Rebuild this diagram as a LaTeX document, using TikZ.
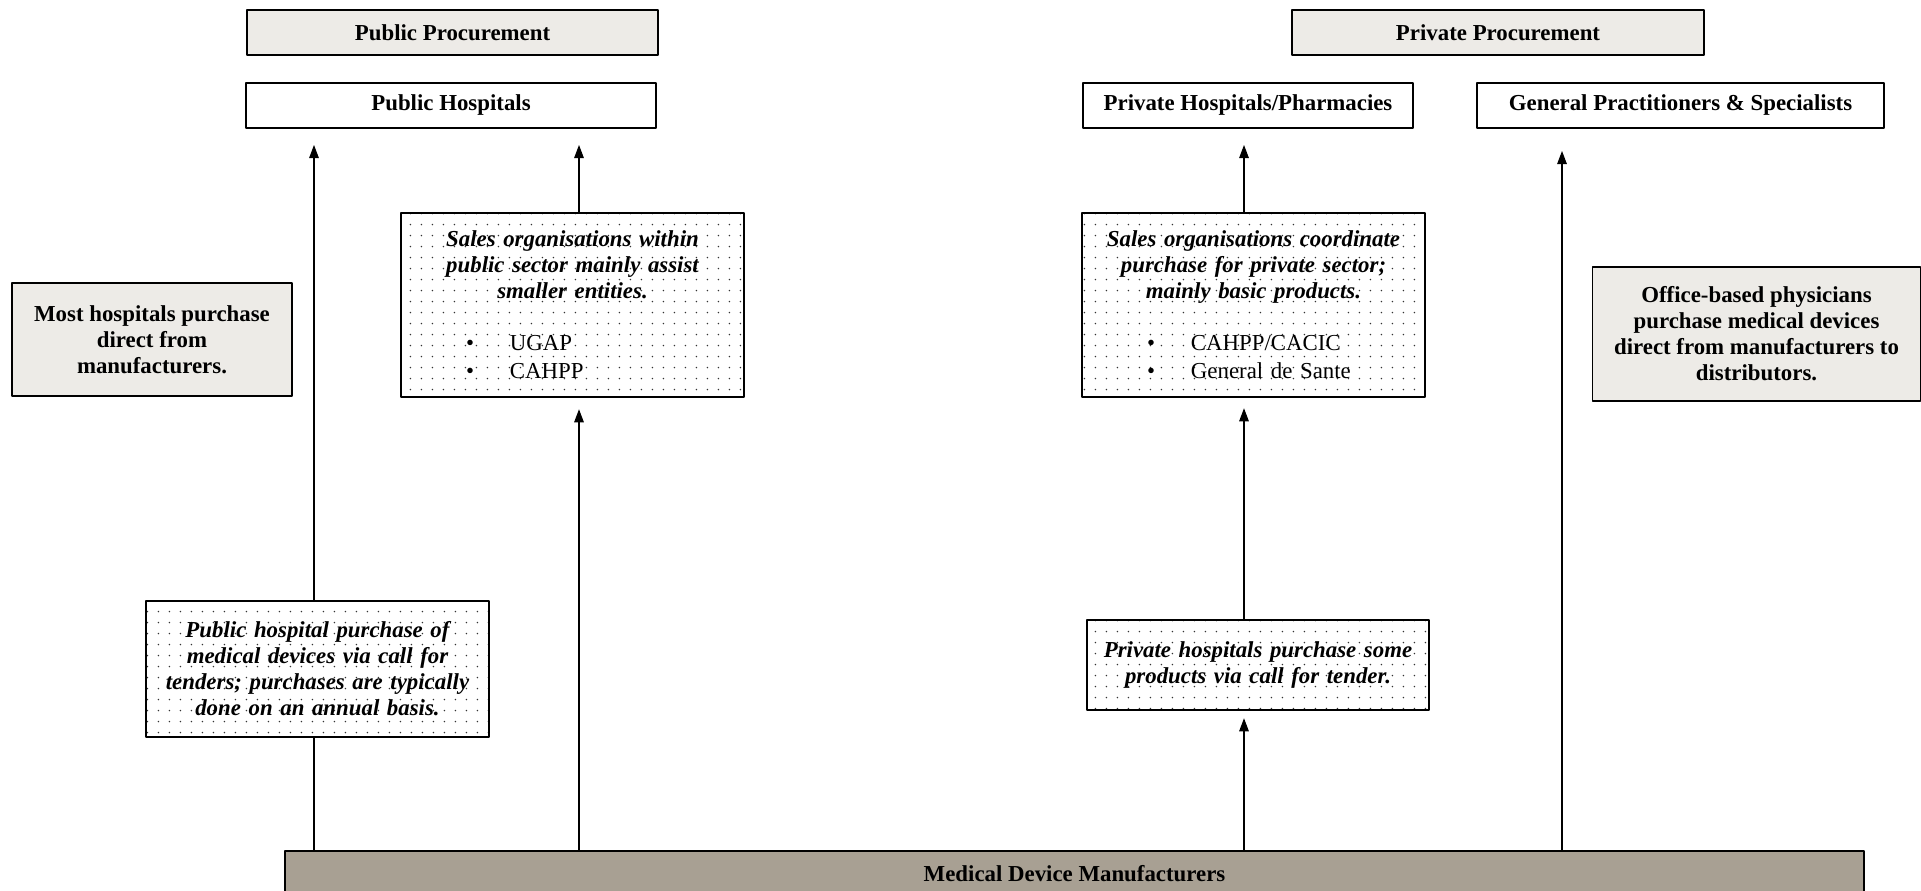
\documentclass[tikz,border=0pt]{standalone}
\usepackage{fontspec}
\setmainfont{Liberation Serif}
\usetikzlibrary{arrows.meta,patterns.meta}
\definecolor{notegrey}{RGB}{237,235,231}
\definecolor{basetaupe}{RGB}{168,160,147}
\newcommand{\orgitem}[1]{\noindent\hspace*{1.3cm}\textbullet\hspace*{0.72cm}#1}
\begin{document}
\begin{tikzpicture}[>={Triangle[length=7.5pt,width=5.5pt]}, line join=round,
	plainbox/.style={draw, line width=1.1pt, inner sep=0pt, minimum height=0.9cm, align=center, font=\fontsize{13}{14.8}\selectfont\bfseries},
	notebox/.style={plainbox, fill=notegrey},
	dotbox/.style={draw, line width=1.4pt, inner sep=0pt, text width=6.86cm, pattern={Dots[distance=6.5pt,radius=0.5pt]}, pattern color=black!80, font=\fontsize{13}{14.8}\selectfont},
	basebox/.style={plainbox, fill=basetaupe, line width=1.4pt},
	flow/.style={line width=0.6pt}]
	\useasboundingbox (0,0) rectangle (38.42,-17.82);
	\path
	(6.28,0) coordinate (xa)
	(11.58,0) coordinate (xb)
	(24.88,0) coordinate (xc)
	(31.24,0) coordinate (xd)
	;
	% top row
	\node[notebox, minimum width=8.22cm] (pubproc) at (9.05,-0.65) {Public Procurement};
	\node[notebox, minimum width=8.24cm] (privproc) at (29.96,-0.65) {Private Procurement};
	\node[plainbox, minimum width=8.20cm] (pubhosp) at (9.02,-2.11) {Public Hospitals};
	\node[plainbox, minimum width=6.60cm] (privhosp) at (24.96,-2.11) {Private Hospitals/Pharmacies};
	\node[plainbox, minimum width=8.14cm] (gp) at (33.61,-2.11) {General Practitioners \& Specialists};
	% notes
	\node[notebox, minimum width=5.60cm, minimum height=2.26cm] (most) at (3.04,-6.79) {Most hospitals purchase\\direct from\\manufacturers.};
	\node[notebox, minimum width=6.56cm, minimum height=2.68cm] (office) at (35.13,-6.68) {Office-based physicians\\purchase medical devices\\direct from manufacturers to\\distributors.};
	% sales organisations
	\node[dotbox, minimum height=3.68cm] (salespub) at (11.45,-6.10) {{\centering\bfseries\itshape Sales organisations within\\public sector mainly assist\\smaller entities.\par}\vspace{14.8pt}\orgitem{UGAP}\\[1pt]\orgitem{CAHPP}};
	\node[dotbox, minimum height=3.68cm] (salespriv) at (25.07,-6.10) {{\centering\bfseries\itshape Sales organisations coordinate\\purchase for private sector;\\mainly basic products.\par}\vspace{14.8pt}\orgitem{CAHPP/CACIC}\\[1pt]\orgitem{General de Sante}};
	% tenders
	\node[dotbox, align=center, minimum height=2.72cm, font=\fontsize{13}{14.8}\selectfont\bfseries\itshape] (pubpurch) at (6.35,-13.38) {Public hospital purchase of\\medical devices via call for\\tenders; purchases are typically\\done on an annual basis.};
	\node[dotbox, align=center, text width=6.84cm, minimum height=1.80cm, font=\fontsize{13}{14.8}\selectfont\bfseries\itshape] (privpurch) at (25.16,-13.30) {Private hospitals purchase some\\products via call for tender.};
	\node[basebox, minimum width=31.58cm, minimum height=0.92cm] (manuf) at (21.49,-17.48) {Medical Device Manufacturers};
	% flows
	\draw[flow] (manuf.north -| xa) -- (pubpurch.south -| xa);
	\foreach \f/\t/\x/\s in {pubpurch/pubhosp/xa/0.32, manuf/salespub/xb/0.22, salespub/pubhosp/xb/0.32, manuf/privpurch/xc/0.14, privpurch/salespriv/xc/0.2, salespriv/privhosp/xc/0.32, manuf/gp/xd/0.44}{
		\draw[flow, ->, shorten >=\s cm] (\f.north -| \x) -- (\t.south -| \x);
	}
\end{tikzpicture}
\end{document}
